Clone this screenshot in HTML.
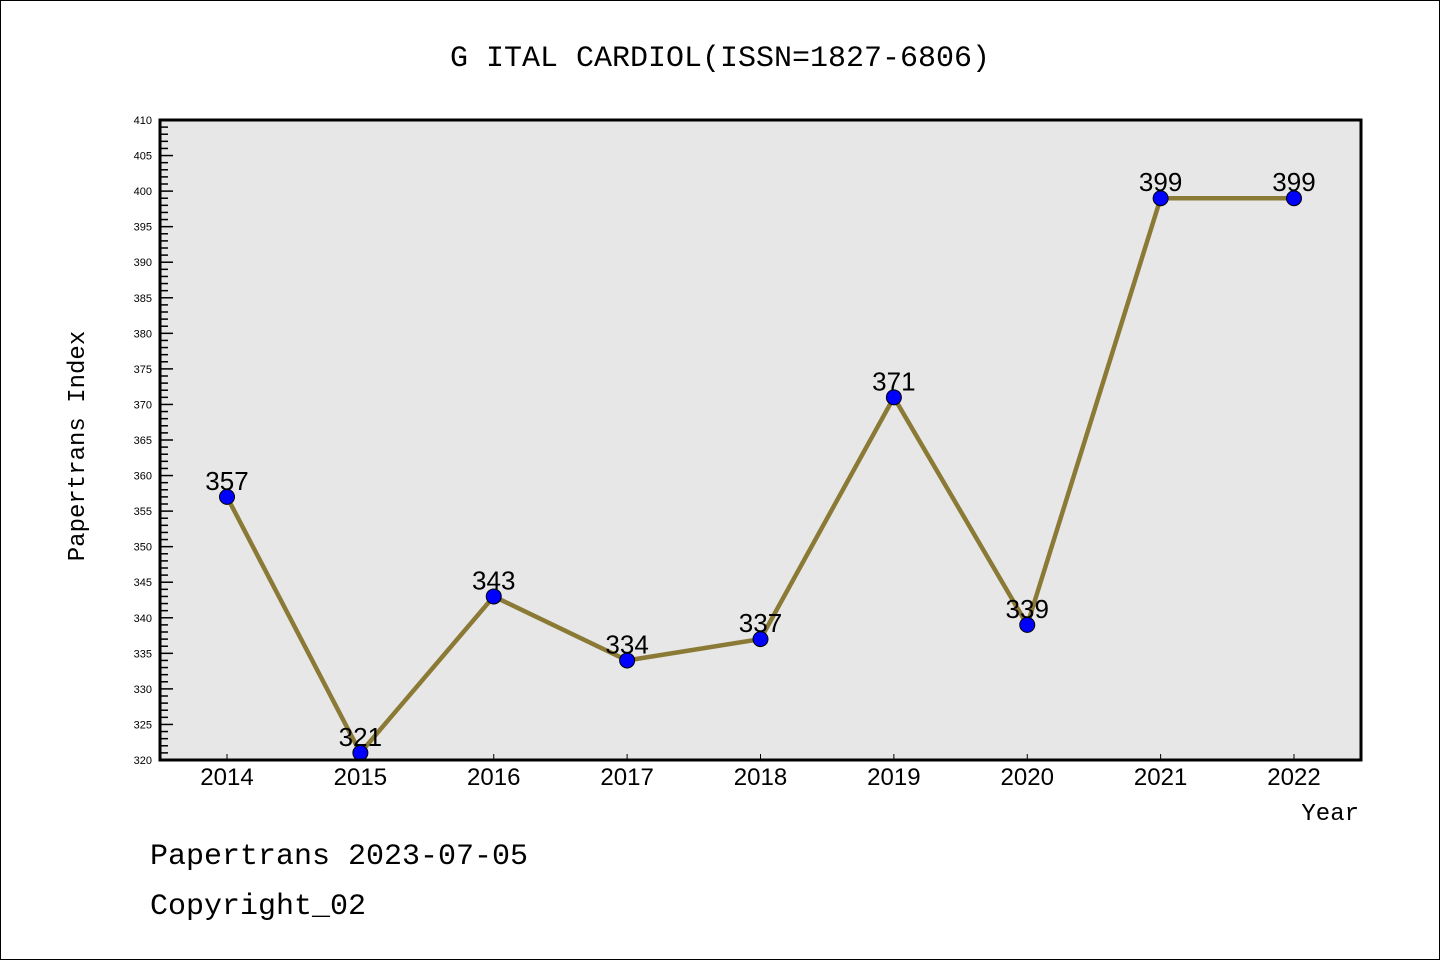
<!DOCTYPE html>
<html><head><meta charset="utf-8"><style>
body{margin:0;background:#fff;}
svg{display:block;font-family:"Liberation Mono","DejaVu Sans Mono",monospace;}
</style></head><body>
<svg id="c" width="1440" height="960" viewBox="0 0 1440 960">
<rect x="0.5" y="0.5" width="1439" height="959" fill="#fff" stroke="#000"/>
<text x="720" y="66" text-anchor="middle" font-size="30">G ITAL CARDIOL(ISSN=1827-6806)</text>
<rect x="160" y="120" width="1201" height="640" fill="#e7e7e7"/>
<g id="yaxis"></g>
<g id="xaxis"></g>
<g id="series"></g>
<rect x="160" y="120" width="1201" height="640" fill="none" stroke="#000" stroke-width="3"/>
<text transform="translate(84,446) rotate(-90)" text-anchor="middle" font-size="24">Papertrans Index</text>
<text x="1359" y="820" text-anchor="end" font-size="24">Year</text>
<text x="150" y="864" font-size="30">Papertrans 2023-07-05</text>
<text x="150" y="914" font-size="30">Copyright_02</text>
</svg>
<script>
const years=["2014","2015","2016","2017","2018","2019","2020","2021","2022"];
const values=[357,321,343,334,337,371,339,399,399];
const yTicks=[320,325,330,335,340,345,350,355,360,365,370,375,380,385,390,395,400,405,410];
const NS="http://www.w3.org/2000/svg";
const yMin=320,yMax=410,plotTop=120,plotBot=760,plotLeft=160;
function ys(v){return plotBot-(v-yMin)/(yMax-yMin)*(plotBot-plotTop);}
function xs(i){return 227+i*(1294-227)/(years.length-1);}
function mk(t,a,p){const e=document.createElementNS(NS,t);for(const k in a)e.setAttribute(k,a[k]);p.appendChild(e);return e;}
const ya=document.getElementById('yaxis');
for(let v=yMin;v<=yMax;v++){
  const major=v%5===0;
  const l=mk('line',{x1:plotLeft,x2:plotLeft+(major?13:8),y1:ys(v),y2:ys(v),stroke:'#000','stroke-width':1.5},ya);
  
  
}
yTicks.forEach(v=>{
  const t=mk('text',{x:152,y:ys(v)+4,'text-anchor':'end','font-size':11,'font-family':'Liberation Sans, sans-serif'},ya);
  t.textContent=v;
  
  
});
const xa=document.getElementById('xaxis');
years.forEach((y,i)=>{
  const l=mk('line',{x1:xs(i),x2:xs(i),y1:plotBot,y2:plotBot-6,stroke:'#000','stroke-width':1},xa);
  
  
  const t=mk('text',{x:xs(i),y:785,'text-anchor':'middle','font-size':24,'font-family':'Liberation Sans, sans-serif'},xa);
  t.textContent=y;
  
  
});
const s=document.getElementById('series');
const pl=mk('polyline',{points:values.map((v,i)=>xs(i)+','+ys(v)).join(' '),fill:'none',stroke:'#8b7a35','stroke-width':4.5},s);


values.forEach((v,i)=>{
  const c=mk('circle',{cx:xs(i),cy:ys(v),r:7.5,fill:'#0000ff',stroke:'#000','stroke-width':1},s);
  
  
  const t=mk('text',{x:xs(i),y:ys(v)-7,'text-anchor':'middle','font-size':26,'font-family':'Liberation Sans, sans-serif'},s);
  t.textContent=v;
  
  
});
</script>
</body></html>
